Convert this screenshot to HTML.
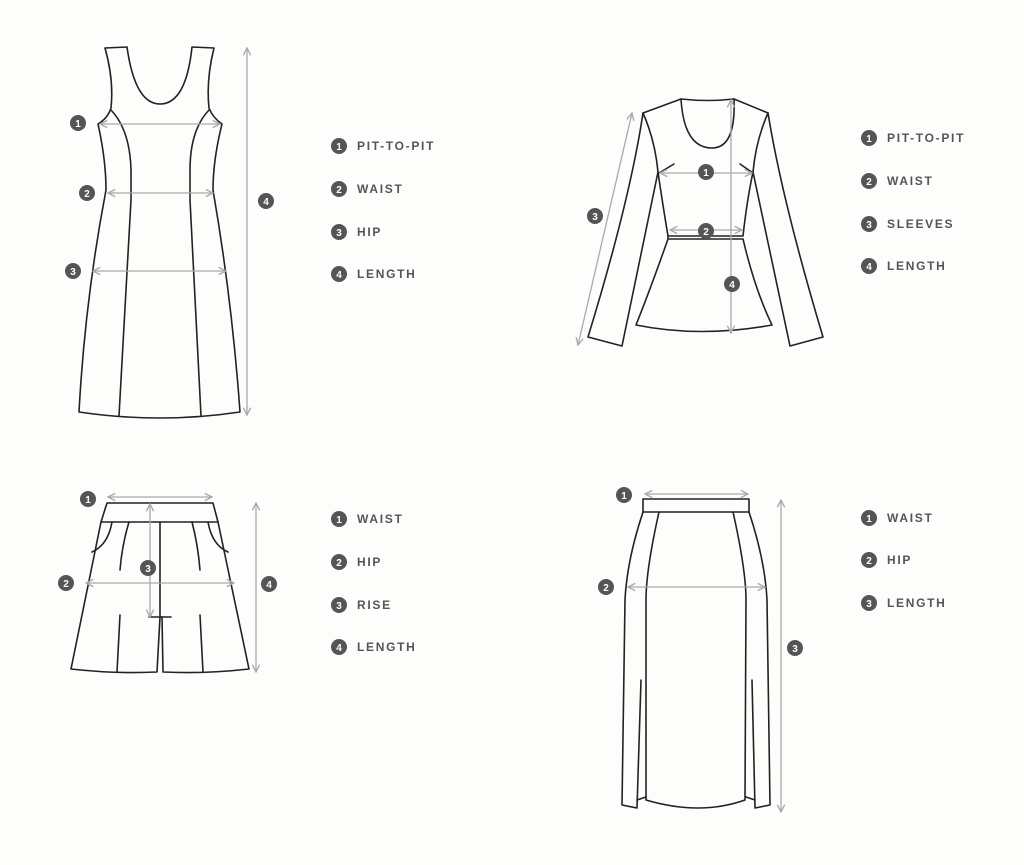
<!DOCTYPE html>
<html><head><meta charset="utf-8"><style>
html,body{margin:0;padding:0;background:#fdfdfb;}
svg{display:block}
.o{fill:none;stroke:#222;stroke-width:1.6;stroke-linejoin:round;stroke-linecap:round}
.m{fill:none;stroke:#aaa;stroke-width:1.3}
.b{fill:#555}
.n{fill:#fff;font:bold 10px "Liberation Sans",sans-serif;text-anchor:middle}
.t{fill:#555;font:bold 12px "Liberation Sans",sans-serif;letter-spacing:1.7px}
</style></head><body>
<svg width="1024" height="865" viewBox="0 0 1024 865" xmlns="http://www.w3.org/2000/svg">
<defs>
<marker id="a" viewBox="0 0 10 10" refX="9" refY="5" markerWidth="7" markerHeight="7" orient="auto-start-reverse"><path d="M1 1 L9 5 L1 9" fill="none" stroke="#aaa" stroke-width="1.5"/></marker>
<g id="bd"><circle r="8" class="b"/></g>
</defs>

<!-- DRESS -->
<path class="o" d="M105 48 L127 47 Q135 104 160 104 Q186 104 192 47 L214 48 Q206 80 209 108 Q213 118 222 124 Q213 160 213 190 Q232 300 240 412 Q160 424 79 412 Q85 300 106 190 Q106 160 98 124 Q108 118 111 108 Q114 80 105 48 Z"/>
<path class="o" d="M111 110 Q130 130 131 170 L131 200 L119 416"/>
<path class="o" d="M209 110 Q190 130 190 170 L190 200 L201 416"/>
<line class="m" x1="100" y1="124" x2="220" y2="124" marker-start="url(#a)" marker-end="url(#a)"/>
<line class="m" x1="108" y1="193" x2="213" y2="193" marker-start="url(#a)" marker-end="url(#a)"/>
<line class="m" x1="93" y1="271" x2="226" y2="271" marker-start="url(#a)" marker-end="url(#a)"/>
<line class="m" x1="247" y1="48" x2="247" y2="415" marker-start="url(#a)" marker-end="url(#a)"/>
<use href="#bd" x="78" y="123"/><text class="n" x="78" y="127">1</text>
<use href="#bd" x="87" y="193"/><text class="n" x="87" y="197">2</text>
<use href="#bd" x="73" y="271"/><text class="n" x="73" y="275">3</text>
<use href="#bd" x="266" y="201"/><text class="n" x="266" y="205">4</text>

<!-- TOP -->
<path class="o" d="M681 99 Q684 148 712 148 Q736 148 734 99 Q708 102 681 99 Z"/>
<path class="o" d="M681 99 L643 113 Q630 200 588 337 L622 346 L658 172 Q662 200 668 236 L743 236 Q747 200 753 172 L790 346 L823 337 Q782 200 768 113 L734 99"/>
<path class="o" d="M643 113 Q655 140 658 172 M768 113 Q756 140 753 172"/>
<path class="o" d="M668 239 L743 239 M668 236 L668 239 Q650 290 636 325 Q700 338 772 325 Q755 290 743 239"/>
<path class="o" d="M659 173 L674 164 M753 173 L740 164"/>
<line class="m" x1="660" y1="173" x2="752" y2="173" marker-start="url(#a)" marker-end="url(#a)"/>
<line class="m" x1="670" y1="230" x2="742" y2="230" marker-start="url(#a)" marker-end="url(#a)"/>
<line class="m" x1="731" y1="100" x2="731" y2="333" marker-start="url(#a)" marker-end="url(#a)"/>
<line class="m" x1="632" y1="113" x2="578" y2="345" marker-start="url(#a)" marker-end="url(#a)"/>
<use href="#bd" x="706" y="172"/><text class="n" x="706" y="176">1</text>
<use href="#bd" x="706" y="231"/><text class="n" x="706" y="235">2</text>
<use href="#bd" x="595" y="216"/><text class="n" x="595" y="220">3</text>
<use href="#bd" x="732" y="284"/><text class="n" x="732" y="288">4</text>

<!-- SHORTS -->
<path class="o" d="M107 503 L213 503 L218 522 L101 522 Z"/>
<path class="o" d="M101 522 L71 669 Q115 674 157 672 L160 617 L162 617 L163 672 Q205 674 249 669 L218 522"/>
<path class="o" d="M160 522 L160 617 M149 617 L171 617"/>
<path class="o" d="M112 522 Q108 545 92 552 M208 522 Q212 545 228 552"/>
<path class="o" d="M129 522 Q122 545 120 570 M192 522 Q198 545 200 570 M120 615 L117 672 M200 615 L203 672" stroke-width="1.2"/>
<line class="m" x1="108" y1="497" x2="212" y2="497" marker-start="url(#a)" marker-end="url(#a)"/>
<line class="m" x1="150" y1="504" x2="150" y2="617" marker-start="url(#a)" marker-end="url(#a)"/>
<line class="m" x1="86" y1="583" x2="234" y2="583" marker-start="url(#a)" marker-end="url(#a)"/>
<line class="m" x1="256" y1="503" x2="256" y2="672" marker-start="url(#a)" marker-end="url(#a)"/>
<use href="#bd" x="88" y="499"/><text class="n" x="88" y="503">1</text>
<use href="#bd" x="66" y="583"/><text class="n" x="66" y="587">2</text>
<use href="#bd" x="148" y="568"/><text class="n" x="148" y="572">3</text>
<use href="#bd" x="269" y="584"/><text class="n" x="269" y="588">4</text>

<!-- SKIRT -->
<rect class="o" x="643" y="499" width="106" height="13"/>
<path class="o" d="M643 512 Q627 560 625 600 L622 805 L637 808 L641 680"/>
<path class="o" d="M659 512 Q646 570 646 600 L646 800 Q700 816 745 800 L746 600 Q746 570 733 512"/>
<path class="o" d="M749 512 Q765 560 767 600 L770 805 L755 808 L752 680"/>
<path class="o" d="M637 800 L646 797 M755 800 L746 797" stroke-width="1.2"/>
<line class="m" x1="645" y1="494" x2="748" y2="494" marker-start="url(#a)" marker-end="url(#a)"/>
<line class="m" x1="628" y1="587" x2="765" y2="587" marker-start="url(#a)" marker-end="url(#a)"/>
<line class="m" x1="781" y1="500" x2="781" y2="812" marker-start="url(#a)" marker-end="url(#a)"/>
<use href="#bd" x="624" y="495"/><text class="n" x="624" y="499">1</text>
<use href="#bd" x="606" y="587"/><text class="n" x="606" y="591">2</text>
<use href="#bd" x="795" y="648"/><text class="n" x="795" y="652">3</text>

<!-- LEGENDS -->
<g>
<use href="#bd" x="339" y="146"/><text class="n" x="339" y="150">1</text><text class="t" x="357" y="150">PIT-TO-PIT</text>
<use href="#bd" x="339" y="189"/><text class="n" x="339" y="193">2</text><text class="t" x="357" y="193">WAIST</text>
<use href="#bd" x="339" y="232"/><text class="n" x="339" y="236">3</text><text class="t" x="357" y="236">HIP</text>
<use href="#bd" x="339" y="274"/><text class="n" x="339" y="278">4</text><text class="t" x="357" y="278">LENGTH</text>

<use href="#bd" x="869" y="138"/><text class="n" x="869" y="142">1</text><text class="t" x="887" y="142">PIT-TO-PIT</text>
<use href="#bd" x="869" y="181"/><text class="n" x="869" y="185">2</text><text class="t" x="887" y="185">WAIST</text>
<use href="#bd" x="869" y="224"/><text class="n" x="869" y="228">3</text><text class="t" x="887" y="228">SLEEVES</text>
<use href="#bd" x="869" y="266"/><text class="n" x="869" y="270">4</text><text class="t" x="887" y="270">LENGTH</text>

<use href="#bd" x="339" y="519"/><text class="n" x="339" y="523">1</text><text class="t" x="357" y="523">WAIST</text>
<use href="#bd" x="339" y="562"/><text class="n" x="339" y="566">2</text><text class="t" x="357" y="566">HIP</text>
<use href="#bd" x="339" y="605"/><text class="n" x="339" y="609">3</text><text class="t" x="357" y="609">RISE</text>
<use href="#bd" x="339" y="647"/><text class="n" x="339" y="651">4</text><text class="t" x="357" y="651">LENGTH</text>

<use href="#bd" x="869" y="518"/><text class="n" x="869" y="522">1</text><text class="t" x="887" y="522">WAIST</text>
<use href="#bd" x="869" y="560"/><text class="n" x="869" y="564">2</text><text class="t" x="887" y="564">HIP</text>
<use href="#bd" x="869" y="603"/><text class="n" x="869" y="607">3</text><text class="t" x="887" y="607">LENGTH</text>
</g>
</svg>
</body></html>
